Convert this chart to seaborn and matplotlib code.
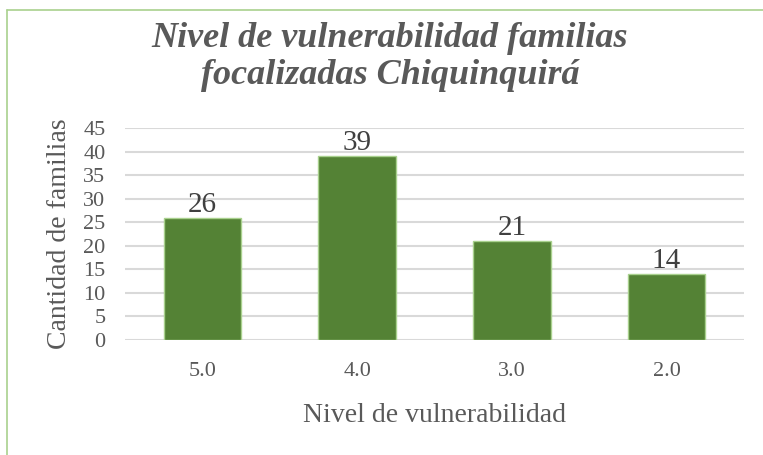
import pandas as pd
import numpy as np
import matplotlib.pyplot as plt
import seaborn as sns
from matplotlib.lines import Line2D

# datos
niveles = ['5.0', '4.0', '3.0', '2.0']
familias = [26, 39, 21, 14]

df = pd.DataFrame({'nivel': niveles, 'familias': familias})

sns.set_style('white')
plt.rcParams['font.family'] = ['Liberation Serif', 'DejaVu Serif']

fig = plt.figure(figsize=(7.63, 4.55), dpi=100)
ax = fig.add_axes([0.1638, 0.2527, 0.8112, 0.466])

sns.barplot(data=df, x='nivel', y='familias', color='#548235', saturation=1,
            width=0.5, edgecolor='#A9D18E', linewidth=1, ax=ax, zorder=3)

ax.set_ylim(0, 45)
ax.set_xlim(-0.5, 3.5)
ax.set_yticks(np.arange(0, 46, 5))
ax.yaxis.grid(True, color='#d9d9d9', linewidth=1.5, zorder=0)
ax.set_axisbelow(True)
sns.despine(ax=ax, left=True, bottom=True)
ax.tick_params(axis='both', length=0, labelsize=16, labelcolor='#595959')
ax.tick_params(axis='x', pad=16)
ax.tick_params(axis='y', pad=14)

# etiquetas de valores
for c in ax.containers:
    ax.bar_label(c, fontsize=21, color='#404040', padding=0)

ax.set_xlabel('Nivel de vulnerabilidad', fontsize=20, color='#595959', labelpad=16)
ax.set_ylabel('Cantidad de familias', fontsize=20, color='#595959', labelpad=8)

fig.text(0.511, 0.875, 'Nivel de vulnerabilidad familias\nfocalizadas Chiquinquirá',
         ha='center', va='center', fontsize=26, fontweight='bold', fontstyle='italic',
         color='#595959', linespacing=1.15)

# borde verde del grafico
fig.add_artist(Line2D([7/763, 1], [1 - 10/455, 1 - 10/455], color='#A9D18E', linewidth=1.2))
fig.add_artist(Line2D([7/763, 7/763], [0, 1 - 10/455], color='#A9D18E', linewidth=1.2))

plt.savefig('out.png', dpi=100)
